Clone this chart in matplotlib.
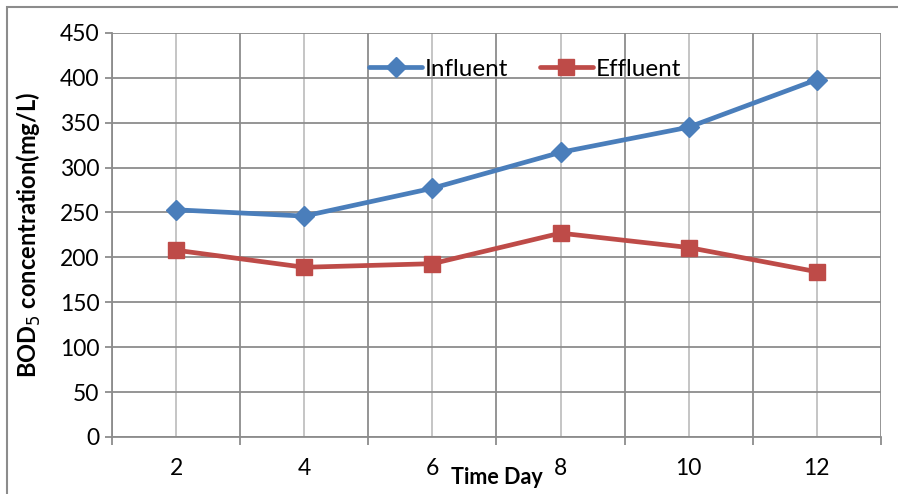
import numpy as np
import matplotlib
matplotlib.use('Agg')
import matplotlib.pyplot as plt
from matplotlib.patches import Rectangle

# BOD5 data per sampling day
days = ['2', '4', '6', '8', '10', '12']
influent = [253, 246, 277, 317, 345, 398]
effluent = [208, 189, 193, 227, 211, 184]

plt.rcParams['font.family'] = ['Lato', 'DejaVu Sans']

fig = plt.figure(figsize=(8.98, 4.94), dpi=100)
ax = fig.add_axes([0.1247, 0.1154, 0.8563, 0.818])

x = np.arange(len(days))
ax.plot(x, influent, color='#4a7ebb', lw=3.4, marker='D', markersize=10,
        label='Influent', solid_capstyle='round', zorder=3)
ax.plot(x, effluent, color='#be4b48', lw=3.4, marker='s', markersize=12,
        label='Effluent', solid_capstyle='round', zorder=3)

ax.set_xlim(-0.5, len(days) - 0.5)
ax.set_ylim(0, 450)
ax.set_yticks(np.arange(0, 451, 50))
ax.set_xticks(x)
ax.set_xticklabels(days)
ax.set_xticks(np.arange(-0.5, len(days), 1), minor=True)

# grid: darker lines on category edges, lighter through the points
ax.grid(axis='y', color='#8c8c8c', lw=1.3)
ax.grid(axis='x', which='minor', color='#8c8c8c', lw=1.3)
ax.grid(axis='x', which='major', color='#c0c0c0', lw=1.3)
ax.set_axisbelow(True)

for s in ['top', 'right']:
    ax.spines[s].set_visible(False)
for s in ['left', 'bottom']:
    ax.spines[s].set_color('#8c8c8c')
    ax.spines[s].set_linewidth(1.3)

ax.tick_params(axis='x', which='major', length=0, pad=15, labelsize=16.5)
ax.tick_params(axis='x', which='minor', length=6, color='#8c8c8c', width=1.3)
ax.tick_params(axis='y', length=5, color='#8c8c8c', width=1.3, labelsize=16.5, pad=4)

ax.set_ylabel('BOD$_5$ concentration(mg/L)', fontsize=17, fontweight='bold')
ax.yaxis.set_label_coords(-0.09, 0.5)
ax.text(2.5, -0.1, 'Time Day', transform=ax.get_xaxis_transform(),
        ha='center', va='center', fontsize=15.5, fontweight='bold')

ax.legend(loc='upper center', bbox_to_anchor=(0.537, 0.99), ncol=2, frameon=False,
          fontsize=17.5, handlelength=2.2, handletextpad=0.1, columnspacing=1.3)

# outer chart frame
fig.patches.append(Rectangle((7 / 898, -0.1), 1.2, 1.1 - 7 / 494,
                             transform=fig.transFigure, fill=False,
                             edgecolor='#8c8c8c', lw=1.5))

fig.savefig('out.png', dpi=100)
